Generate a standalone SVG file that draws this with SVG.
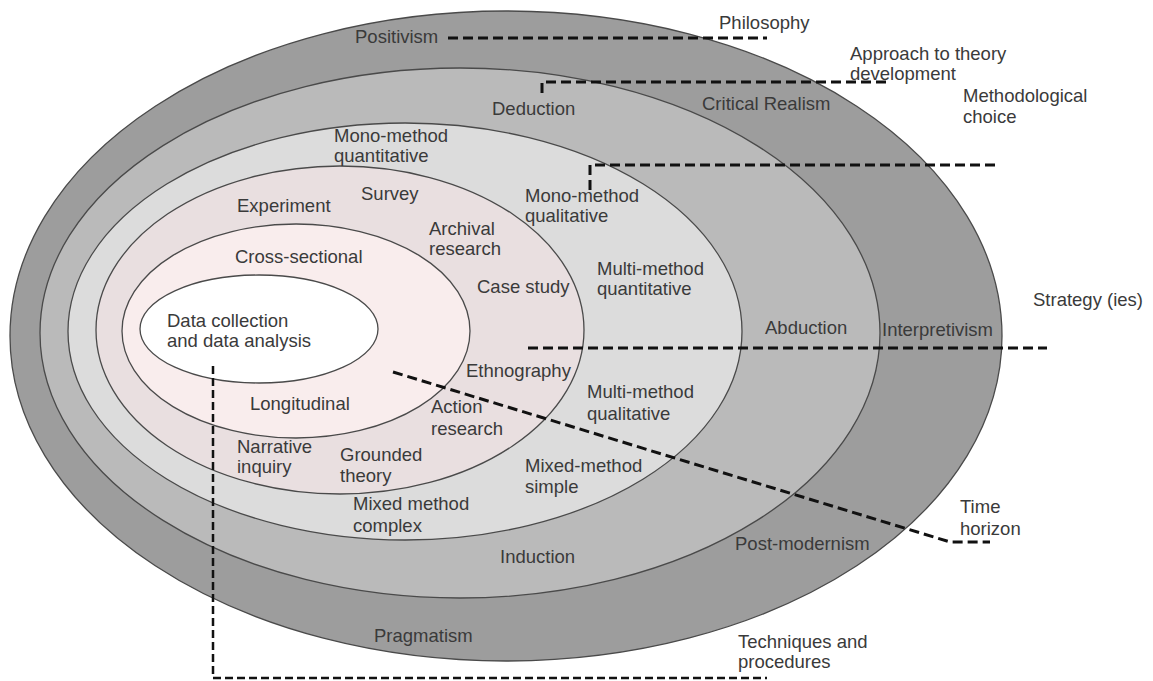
<svg xmlns="http://www.w3.org/2000/svg" width="1153" height="681" viewBox="0 0 1153 681">
<style>
.ring{stroke:#4a4a4a;stroke-width:1.3}
text{font-family:"Liberation Sans",Arial,sans-serif;font-size:18.5px;fill:#3a3a3a}
.dash{fill:none;stroke:#111;stroke-width:3;stroke-dasharray:10 5}
.dash2{fill:none;stroke:#111;stroke-width:2.5;stroke-dasharray:8 4}
</style>
<rect width="1153" height="681" fill="#ffffff"/>
<g id="philosophy">
<ellipse class="ring" cx="506" cy="336" rx="496" ry="325" fill="#9d9d9d"/>
</g>
<g id="approach">
<ellipse class="ring" cx="460" cy="333" rx="420" ry="265" fill="#bababa"/>
</g>
<g id="methodological-choice">
<ellipse class="ring" cx="405" cy="331.5" rx="337" ry="208.5" fill="#dcdcdc"/>
</g>
<g id="strategies">
<ellipse class="ring" cx="340" cy="330" rx="244" ry="164" fill="#e9dfe0"/>
</g>
<g id="time-horizon">
<ellipse class="ring" cx="296" cy="331" rx="174" ry="107" fill="#f9eded"/>
</g>
<g id="techniques">
<ellipse class="ring" cx="259" cy="329" rx="119" ry="54" fill="#ffffff"/>
</g>
<g id="connectors">
<path class="dash" d="M448,38 H767"/>
<path class="dash" d="M542,93 V82 H888"/>
<path class="dash" d="M590,190 V165 H995"/>
<path class="dash" d="M528,348 H1047"/>
<path class="dash" d="M393,372 L950,542 H990"/>
<path class="dash2" d="M213,366 V678 H767"/>
</g>
<g id="philosophy-labels">
<text x="719" y="29">Philosophy</text>
<text x="355" y="43">Positivism</text>
<text x="702" y="110">Critical Realism</text>
<text x="882" y="336">Interpretivism</text>
<text x="735" y="550">Post-modernism</text>
<text x="374" y="642">Pragmatism</text>
</g>
<g id="approach-labels">
<text x="850" y="60">Approach to theory</text>
<text x="850" y="80">development</text>
<text x="492" y="115">Deduction</text>
<text x="765" y="334">Abduction</text>
<text x="500" y="563">Induction</text>
</g>
<g id="method-labels">
<text x="963" y="102">Methodological</text>
<text x="963" y="123">choice</text>
<text x="334" y="142">Mono-method</text>
<text x="334" y="162">quantitative</text>
<text x="525" y="202">Mono-method</text>
<text x="525" y="222">qualitative</text>
<text x="597" y="275">Multi-method</text>
<text x="597" y="295">quantitative</text>
<text x="587" y="398">Multi-method</text>
<text x="587" y="420">qualitative</text>
<text x="525" y="472">Mixed-method</text>
<text x="525" y="493">simple</text>
<text x="353" y="510">Mixed method</text>
<text x="353" y="532">complex</text>
</g>
<g id="strategy-labels">
<text x="1033" y="306">Strategy (ies)</text>
<text x="237" y="212">Experiment</text>
<text x="361" y="200">Survey</text>
<text x="429" y="235">Archival</text>
<text x="429" y="255">research</text>
<text x="477" y="293">Case study</text>
<text x="466" y="377">Ethnography</text>
<text x="431" y="413">Action</text>
<text x="431" y="435">research</text>
<text x="340" y="461">Grounded</text>
<text x="340" y="482">theory</text>
<text x="237" y="453">Narrative</text>
<text x="237" y="473">inquiry</text>
</g>
<g id="time-labels">
<text x="960" y="513">Time</text>
<text x="960" y="535">horizon</text>
<text x="235" y="263">Cross-sectional</text>
<text x="250" y="410">Longitudinal</text>
</g>
<g id="technique-labels">
<text x="738" y="648">Techniques and</text>
<text x="738" y="668">procedures</text>
<text x="167" y="327">Data collection</text>
<text x="167" y="347">and data analysis</text>
</g>
</svg>
